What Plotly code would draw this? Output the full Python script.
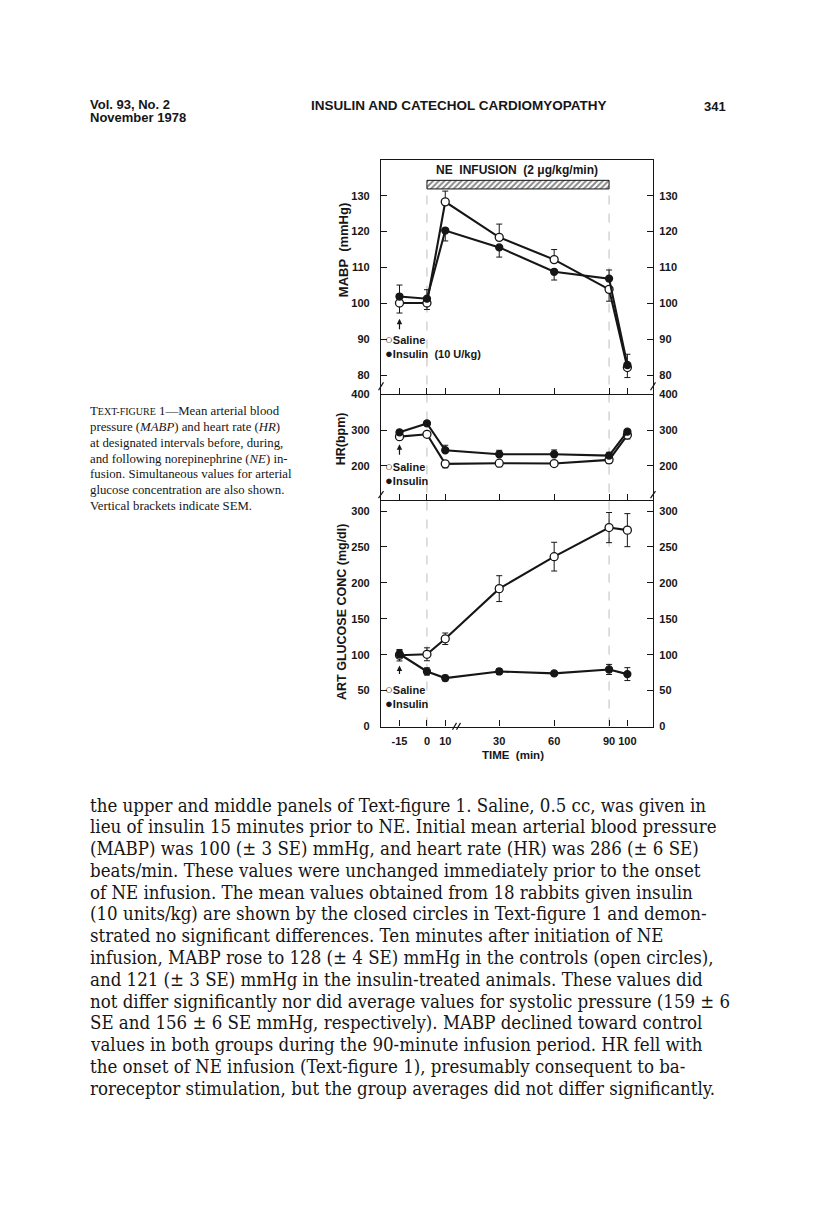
import plotly.graph_objects as go

# ---------------- data ----------------
times = [-15, 0, 10, 30, 60, 90, 100]
time_labels = ["-15", "0", "10", "30", "60", "90", "100"]
infusion = [0, 90]

mabp_saline = [100.1, 100.1, 128.3, 118.4, 112.2, 103.9, 82.1]
mabp_saline_up = [0, 0, 3.0, 3.7, 2.8, 0, 0]
mabp_saline_dn = [2.8, 1.8, 0, 0, 0, 3.3, 2.8]
mabp_insulin = [101.9, 101.3, 120.3, 115.6, 108.8, 106.9, 82.8]
mabp_insulin_up = [3.2, 2.5, 0, 0, 0, 2.4, 3.0]
mabp_insulin_dn = [0, 0, 2.9, 2.7, 2.3, 0, 0]

hr_saline = [281.5, 288, 205.6, 207.4, 206.5, 216.7, 286]
hr_saline_up = [0, 0, 0, 0, 0, 0, 0]
hr_saline_dn = [6, 5, 11, 10, 6, 9, 11]
hr_insulin = [293.5, 318.5, 243.5, 232.4, 232.4, 228.7, 295.4]
hr_insulin_up = [6, 6, 14, 11, 12, 9, 6]
hr_insulin_dn = [0, 0, 0, 0, 0, 0, 0]

glu_saline = [99.3, 100.6, 122.2, 192.0, 236.5, 277.0, 273.4]
glu_saline_err = [8, 9, 8, 18, 20, 21, 23]
glu_insulin = [101.0, 76.7, 67.5, 76.7, 74.0, 79.5, 73.0]
glu_insulin_err = [5, 5, 4, 4, 3, 7, 9]

mabp_ticks = [80, 90, 100, 110, 120, 130]
hr_ticks = [200, 300, 400]
glu_ticks = [0, 50, 100, 150, 200, 250, 300]

# ---------------- helpers ----------------
OFF = 8                      # page body margin of the html page
W, H = 816 - 2 * OFF, 1225 - 2 * OFF
BREAK_GAP = 9.5              # broken time axis between 10 and 30 min


def tpos(t):
    return t if t <= 10 else t + BREAK_GAP


def pxx(x):
    return (x - OFF) / W


def pxy(y):
    return 1 - (y - OFF) / H


xs = [tpos(t) for t in times]
SANS = "Liberation Sans"
SERIF = "Liberation Serif"
BODY = "DejaVu Serif Condensed, DejaVu Serif"
INK = "#161616"

fig = go.Figure()


def add_series(y, up, dn, yaxis, xaxis, filled):
    marker = dict(symbol="circle", size=7 if filled else 8,
                  color=INK if filled else "white",
                  line=dict(color=INK, width=1.3))
    fig.add_trace(go.Scatter(
        x=xs, y=y, mode="lines+markers", xaxis=xaxis, yaxis=yaxis,
        line=dict(color=INK, width=2.1), marker=marker,
        error_y=dict(type="data", array=up, arrayminus=dn, symmetric=False,
                     color=INK, thickness=1, width=3),
        showlegend=False, hoverinfo="skip"))


# NE infusion hatched bar (top panel)
fig.add_trace(go.Bar(
    x=[(tpos(infusion[0]) + tpos(infusion[1])) / 2], y=[2.4], base=[131.9],
    width=[tpos(infusion[1]) - tpos(infusion[0])], xaxis="x", yaxis="y",
    marker=dict(color="white", line=dict(color=INK, width=1),
                pattern=dict(shape="/", fgcolor=INK, bgcolor="white", size=4, solidity=0.5)),
    showlegend=False, hoverinfo="skip"))

add_series(mabp_saline, mabp_saline_up, mabp_saline_dn, "y", "x", False)
add_series(mabp_insulin, mabp_insulin_up, mabp_insulin_dn, "y", "x", True)
add_series(hr_saline, hr_saline_up, hr_saline_dn, "y2", "x2", False)
add_series(hr_insulin, hr_insulin_up, hr_insulin_dn, "y2", "x2", True)
add_series(glu_saline, glu_saline_err, glu_saline_err, "y3", "x3", False)
add_series(glu_insulin, glu_insulin_err, glu_insulin_err, "y3", "x3", True)

# dummy traces so the right-hand mirrored axes are drawn
for ya, xa in (("y4", "x"), ("y5", "x2"), ("y6", "x3")):
    fig.add_trace(go.Scatter(x=[None], y=[None], xaxis=xa, yaxis=ya,
                             showlegend=False, hoverinfo="skip"))

XDOM = [pxx(381), pxx(653)]
XR = [-25.1, 123.5]
tickfont = dict(family=SANS, size=11, color=INK, weight="bold")

xcommon = dict(range=XR, domain=XDOM, tickvals=xs, ticktext=time_labels,
               ticks="inside", ticklen=6, tickwidth=1.2, tickcolor=INK,
               showline=True, linecolor=INK, linewidth=1.3, showgrid=False,
               zeroline=False, fixedrange=True)

ycommon = dict(ticks="inside", ticklen=6, tickwidth=1.2, tickcolor=INK,
               showline=True, linecolor=INK, linewidth=1.3, showgrid=False,
               zeroline=False, tickfont=tickfont, fixedrange=True)

panels = [
    dict(dom=[pxy(391.7), pxy(155)], rng=[74.75, 140.1], tv=mabp_ticks),
    dict(dom=[pxy(499), pxy(391.7)], rng=[104.4, 400.8], tv=hr_ticks),
    dict(dom=[pxy(727.7), pxy(499)], rng=[0, 315.2], tv=glu_ticks),
]

layout = dict(width=W, height=H, margin=dict(l=0, r=0, t=0, b=0),
              paper_bgcolor="white", plot_bgcolor="rgba(0,0,0,0)",
              showlegend=False, barmode="overlay")

layout["xaxis"] = dict(xcommon, anchor="y", showticklabels=False, mirror=True)
layout["xaxis2"] = dict(xcommon, anchor="y2", showticklabels=False, matches="x")
layout["xaxis3"] = dict(xcommon, anchor="y3", showticklabels=True, matches="x",
                        tickfont=tickfont, ticklabelstandoff=4)
for i, p in enumerate(panels):
    n = "" if i == 0 else str(i + 1)
    layout["yaxis" + n] = dict(ycommon, domain=p["dom"], range=p["rng"],
                               tickvals=p["tv"], anchor="x" + n, side="left",
                               ticklabelstandoff=8)
    layout["yaxis" + str(i + 4)] = dict(ycommon, range=p["rng"], tickvals=p["tv"],
                                        overlaying="y" + n, anchor="x" + n,
                                        side="right", ticklabelstandoff=3)
fig.update_layout(**layout)

# ---------------- shapes ----------------
shapes = []
for t in infusion:
    shapes.append(dict(type="line", xref="x", yref="paper", x0=tpos(t), x1=tpos(t),
                       y0=pxy(727.7), y1=pxy(185), layer="below",
                       line=dict(color="#bdbdbd", width=1, dash="dash")))
# axis-break marks
for (xa, ya, xb, yb) in [(378.5, 388, 383.5, 380), (650.5, 388, 655.5, 380),
                         (378.5, 497, 383.5, 490), (650.5, 497, 655.5, 490),
                         (452.5, 731, 456.5, 724), (456.5, 731, 460.5, 724)]:
    shapes.append(dict(type="line", xref="paper", yref="paper",
                       x0=pxx(xa), y0=pxy(ya), x1=pxx(xb), y1=pxy(yb),
                       line=dict(color=INK, width=1.2)))
fig.update_layout(shapes=shapes)

# ---------------- annotations ----------------
ann = []


def text(x, y, s, size, family=SANS, anchor="left", color=INK, angle=0, weight=None):
    f = dict(family=family, size=size, color=color)
    if weight:
        f["weight"] = weight
    ann.append(dict(x=pxx(x), y=pxy(y), xref="paper", yref="paper", text=s,
                    showarrow=False, xanchor=anchor, yanchor="middle", align="left",
                    textangle=angle, font=f))


# header
text(88, 99, "Vol. 93, No. 2", 13, weight="bold")
text(88, 113, "November 1978", 13, weight="bold")
text(459, 100, "INSULIN AND CATECHOL CARDIOMYOPATHY", 13.5, anchor="center", weight="bold")
text(728, 101, "341", 13, anchor="right", weight="bold")

# figure texts
text(517, 166, "<b>NE  INFUSION  (2 μg/kg/min)</b>", 12, anchor="center")
text(513, 756, "<b>TIME  (min)</b>", 11.5, anchor="center")
text(343.5, 247, "<b>MABP  (mmHg)</b>", 13, anchor="center", angle=-90)
text(340.5, 437, "<b>HR(bpm)</b>", 12.5, anchor="center", angle=-90)
text(342, 612, "<b>ART GLUCOSE CONC (mg/dl)</b>", 12.5, anchor="center", angle=-90)

# in-panel keys (two lines each)
O = "<span style='font-size:13px'>○</span>"
F = "<span style='font-size:13px'>●</span>"
text(383, 344, O + "<b>Saline</b><br>" + F + "<b>Insulin  (10 U/kg)</b>", 11)
text(383, 472, O + "<b>Saline</b><br>" + F + "<b>Insulin</b>", 11)
text(383, 697.5, O + "<b>Saline</b><br>" + F + "<b>Insulin</b>", 11)

# arrows at time of injection
for yax, yv, ay in (("y", 95.7, 12), ("y2", 260, 12), ("y3", 85, 10)):
    ann.append(dict(x=tpos(times[0]), y=yv, xref="x", yref=yax, text="",
                    showarrow=True, ax=0, ay=ay, arrowhead=2, arrowsize=0.9,
                    arrowwidth=1.2, arrowcolor=INK))

# caption
cap = [
    "T<span style='font-size:10px'>EXT-FIGURE</span> 1—Mean arterial blood",
    "pressure (<i>MABP</i>) and heart rate (<i>HR</i>)",
    "at designated intervals before, during,",
    "and following norepinephrine (<i>NE</i>) in-",
    "fusion. Simultaneous values for arterial",
    "glucose concentration are also shown.",
    "Vertical brackets indicate SEM.",
]
for i, line in enumerate(cap):
    text(88, 409 + 16 * i, line, 12.8, family=SERIF)

body = [
    "the upper and middle panels of Text-figure 1. Saline, 0.5 cc, was given in",
    "lieu of insulin 15 minutes prior to NE. Initial mean arterial blood pressure",
    "(MABP) was 100 (± 3 SE) mmHg, and heart rate (HR) was 286 (± 6 SE)",
    "beats/min. These values were unchanged immediately prior to the onset",
    "of NE infusion. The mean values obtained from 18 rabbits given insulin",
    "(10 units/kg) are shown by the closed circles in Text-figure 1 and demon-",
    "strated no significant differences. Ten minutes after initiation of NE",
    "infusion, MABP rose to 128 (± 4 SE) mmHg in the controls (open circles),",
    "and 121 (± 3 SE) mmHg in the insulin-treated animals. These values did",
    "not differ significantly nor did average values for systolic pressure (159 ± 6",
    "SE and 156 ± 6 SE mmHg, respectively). MABP declined toward control",
    "values in both groups during the 90-minute infusion period. HR fell with",
    "the onset of NE infusion (Text-figure 1), presumably consequent to ba-",
    "roreceptor stimulation, but the group averages did not differ significantly.",
]
for i, line in enumerate(body):
    text(88, 807 + 22 * i, line, 18.5, family=BODY)

fig.update_layout(annotations=ann)
fig.write_html("out.html")
